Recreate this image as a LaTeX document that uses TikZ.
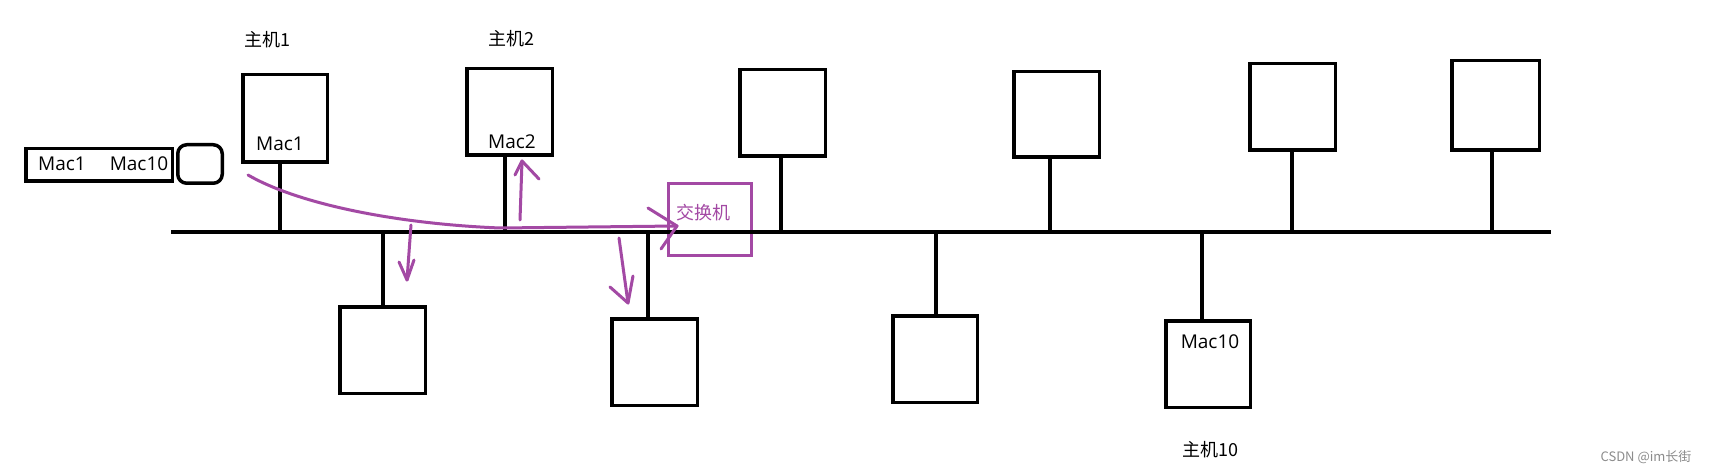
\documentclass[tikz,border=0pt]{standalone}
\usepackage{fontspec}
\setmainfont{Open Sans}
\newfontfamily\cjk{Noto Sans CJK SC}
\definecolor{pp}{HTML}{A349A4}
\definecolor{wm}{HTML}{8C8C8C}
\begin{document}
\begin{tikzpicture}[x=1pt,y=-1pt,
  blk/.style={line width=3.5pt, line cap=butt},
  host/.style={draw, line width=3.5pt, inner sep=0pt, outer sep=0pt},
  pl/.style={draw=pp, line width=3pt, line cap=round, line join=round},
  lbl/.style={inner sep=0pt, font=\fontsize{19}{22}\selectfont},
  clbl/.style={inner sep=0pt, font=\cjk\fontsize{18}{21}\selectfont}]
\useasboundingbox[fill=white] (0,0) rectangle (1709,473);

% hosts above the bus
\node[host, minimum width=84.5pt, minimum height=87.5pt] (h1) at (285,118.5) {};
\node[host, minimum width=85.5pt, minimum height=86.5pt] (h2) at (509.5,112) {};
\node[host, minimum width=85.5pt, minimum height=86.5pt] (h3) at (782.5,113) {};
\node[host, minimum width=85.5pt, minimum height=85.5pt] (h4) at (1056.5,114.5) {};
\node[host, minimum width=85.5pt, minimum height=86.5pt] (h5) at (1292.5,107) {};
\node[host, minimum width=87.5pt, minimum height=89.5pt] (h6) at (1495.5,105.5) {};
% hosts below the bus
\node[host, minimum width=85.5pt, minimum height=86.5pt] (b1) at (382.5,350) {};
\node[host, minimum width=85.5pt, minimum height=86.5pt] (b2) at (654.5,362) {};
\node[host, minimum width=84.5pt, minimum height=86.5pt] (b3) at (935,359) {};
\node[host, minimum width=84.5pt, minimum height=86.5pt] (b4) at (1208,364) {};

% MAC table
\node[host, minimum width=146.5pt, minimum height=32.5pt] (tab) at (99,165) {};
\node[host, rounded corners=9pt, minimum width=44.5pt, minimum height=38.5pt] (tabend) at (200,164) {};
\node[lbl] (tm1) at (62,164) {Mac1};
\node[lbl] (tm10) at (139,164) {Mac10};

% switch
\node[draw=pp, line width=3pt, inner sep=0pt, minimum width=83pt, minimum height=72pt] (sw) at (710,219.5) {};
\node[clbl, text=pp] (swt) at (703,213) {交换机};

% texts
\node[lbl] (m1) at (280,144) {Mac1};
\node[lbl] (m2) at (512,142) {Mac2};
\node[lbl] (m10) at (1210,342) {Mac10};
\node[clbl] (n1) at (267,40) {主机1};
\node[clbl] (n2) at (511,39) {主机2};
\node[clbl] (n10) at (1210,450) {主机10};
\node[inner sep=0pt, text=wm, font=\cjk\fontsize{13}{15}\selectfont] (wmk) at (1646,457) {CSDN @im长街};

% bus
\coordinate (busL) at (171,232);
\coordinate (busR) at (1551,232);
\draw[blk] (busL) -- (busR);

% stems
\coordinate (t1) at (280,232);
\coordinate (t2) at (505,232);
\coordinate (t3) at (781,232);
\coordinate (t4) at (1050,232);
\coordinate (t5) at (1292,232);
\coordinate (t6) at (1492,232);
\coordinate (u1) at (383,232);
\coordinate (u2) at (648,232);
\coordinate (u3) at (936,232);
\coordinate (u4) at (1202,232);
\foreach \t/\h in {t1/h1,t2/h2,t3/h3,t4/h4,t5/h5,t6/h6}
  \draw[blk] (\t) -- (\t |- \h.south);
\foreach \t/\h in {u1/b1,u2/b2,u3/b3,u4/b4}
  \draw[blk] (\t) -- (\t |- \h.north);

% purple arrows
\coordinate (c0) at (248,175);
\coordinate (swin) at (677,226);
\draw[pl] (c0) .. controls (300,205) and (400,224) .. (500,228) -- (swin);
\draw[pl] (648,208) -- (swin) -- (661,249);

\coordinate (a0) at (520,220);
\coordinate (a1) at (522,161);
\draw[pl] (a0) -- (a1);
\draw[pl] (515,175) -- (a1) -- (539,179);

\coordinate (d0) at (411,225);
\coordinate (d1) at (407,280);
\draw[pl] (d0) -- (d1);
\draw[pl] (399,262) -- (d1) -- (414,260);

\coordinate (e0) at (619,238);
\coordinate (e1) at (628,303);
\draw[pl] (e0) -- (e1);
\draw[pl] (610,287) -- (e1) -- (633,276);
\end{tikzpicture}
\end{document}
